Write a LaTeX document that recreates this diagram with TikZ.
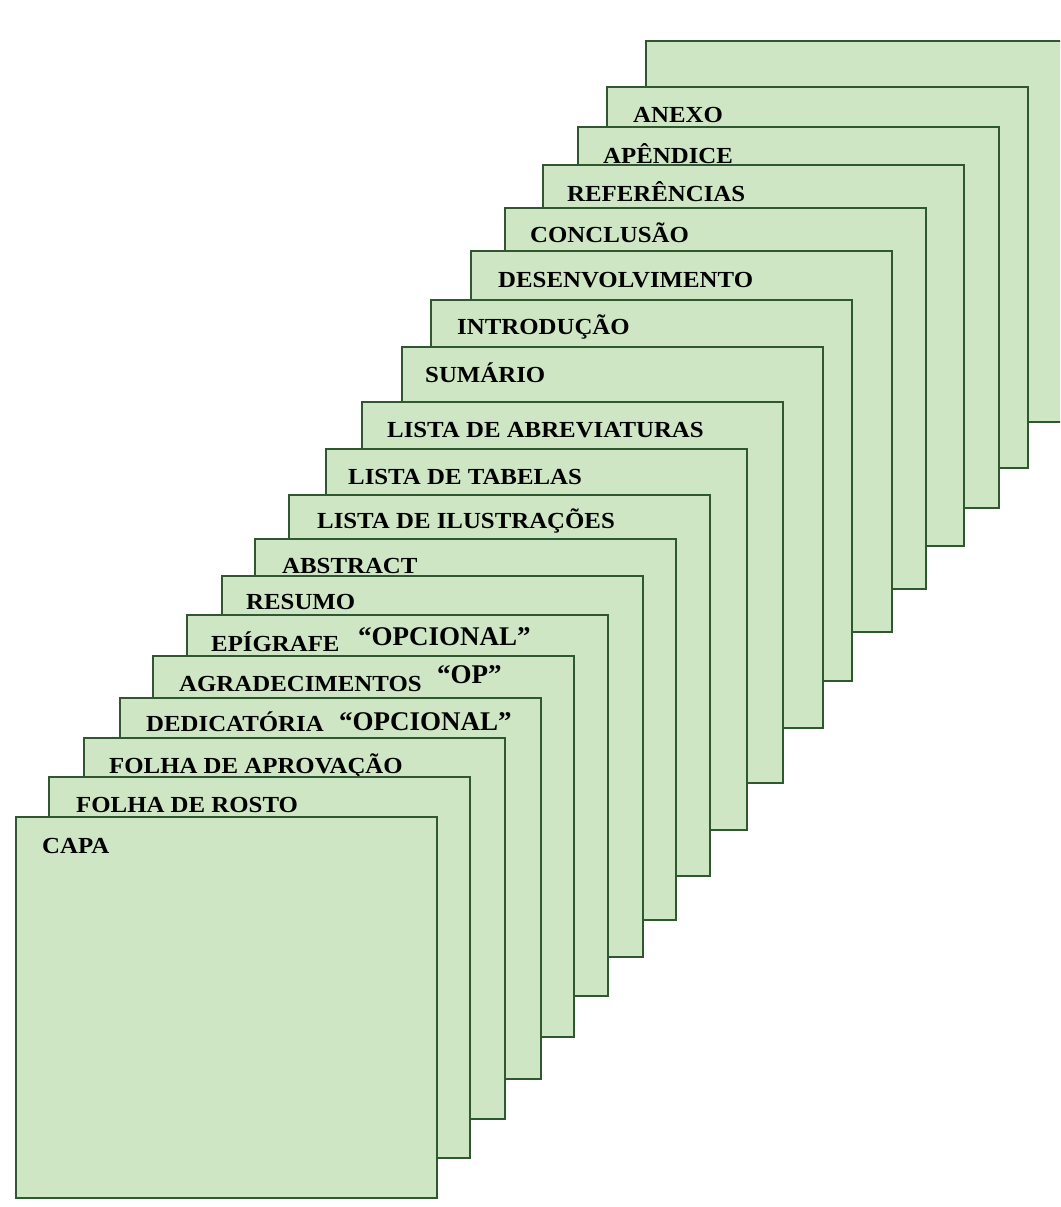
\documentclass[tikz,border=0pt]{standalone}
\usepackage{fontspec}
\newfontfamily\labelfont[FakeStretch=1.08]{Liberation Serif}
\newfontfamily\notefont{Liberation Serif}
\definecolor{sheetfill}{RGB}{207,230,196}
\definecolor{sheetline}{RGB}{48,88,48}
\begin{document}
\begin{tikzpicture}[x=1pt,y=-1pt,
  sheet/.style={draw=sheetline, fill=sheetfill, line width=2.1pt,
    minimum width=421pt, minimum height=381pt, anchor=north west,
    inner sep=0pt, outer sep=0pt},
  title/.style={anchor=base west, inner sep=0pt, text=black,
    font=\labelfont\bfseries\fontsize{23}{26}\selectfont},
  note/.style={anchor=base west, inner sep=0pt, text=black,
    font=\notefont\bfseries\fontsize{27}{30}\selectfont}]
\useasboundingbox (0,0) rectangle (1060,1207);
\clip (0,0) rectangle (1060,1207);

% stack of sheets, drawn from the back to the front
\node[sheet] (p0) at (646,41) {};

\node[sheet] (p1) at (607,87) {};
\node[title] (t1) at ([shift={(26,35)}]p1.north west) {ANEXO};

\node[sheet] (p2) at (578,127) {};
\node[title] (t2) at ([shift={(25,36)}]p2.north west) {APÊNDICE};

\node[sheet] (p3) at (543,165) {};
\node[title] (t3) at ([shift={(24,36)}]p3.north west) {REFERÊNCIAS};

\node[sheet] (p4) at (505,208) {};
\node[title] (t4) at ([shift={(25,34)}]p4.north west) {CONCLUSÃO};

\node[sheet] (p5) at (471,251) {};
\node[title] (t5) at ([shift={(27,36)}]p5.north west) {DESENVOLVIMENTO};

\node[sheet] (p6) at (431,300) {};
\node[title] (t6) at ([shift={(26,34)}]p6.north west) {INTRODUÇÃO};

\node[sheet] (p7) at (402,347) {};
\node[title] (t7) at ([shift={(23,35)}]p7.north west) {SUMÁRIO};

\node[sheet] (p8) at (362,402) {};
\node[title] (t8) at ([shift={(25,35)}]p8.north west) {LISTA DE ABREVIATURAS};

\node[sheet] (p9) at (326,449) {};
\node[title] (t9) at ([shift={(22,35)}]p9.north west) {LISTA DE TABELAS};

\node[sheet] (p10) at (289,495) {};
\node[title] (t10) at ([shift={(28,33)}]p10.north west) {LISTA DE ILUSTRAÇÕES};

\node[sheet] (p11) at (255,539) {};
\node[title] (t11) at ([shift={(27,34)}]p11.north west) {ABSTRACT};

\node[sheet] (p12) at (222,576) {};
\node[title] (t12) at ([shift={(24,33)}]p12.north west) {RESUMO};

\node[sheet] (p13) at (187,615) {};
\node[title] (t13) at ([shift={(24,36)}]p13.north west) {EPÍGRAFE};
\node[note] (n13) at ([shift={(171,30)}]p13.north west) {“OPCIONAL”};

\node[sheet] (p14) at (153,656) {};
\node[title] (t14) at ([shift={(26,35)}]p14.north west) {AGRADECIMENTOS};
\node[note] (n14) at ([shift={(284,27)}]p14.north west) {“OP”};

\node[sheet] (p15) at (120,698) {};
\node[title] (t15) at ([shift={(26,33)}]p15.north west) {DEDICATÓRIA};
\node[note] (n15) at ([shift={(219,32)}]p15.north west) {“OPCIONAL”};

\node[sheet] (p16) at (84,738) {};
\node[title] (t16) at ([shift={(25,35)}]p16.north west) {FOLHA DE APROVAÇÃO};

\node[sheet] (p17) at (49,777) {};
\node[title] (t17) at ([shift={(27,35)}]p17.north west) {FOLHA DE ROSTO};

\node[sheet] (p18) at (16,817) {};
\node[title] (t18) at ([shift={(26,36)}]p18.north west) {CAPA};
\end{tikzpicture}
\end{document}
